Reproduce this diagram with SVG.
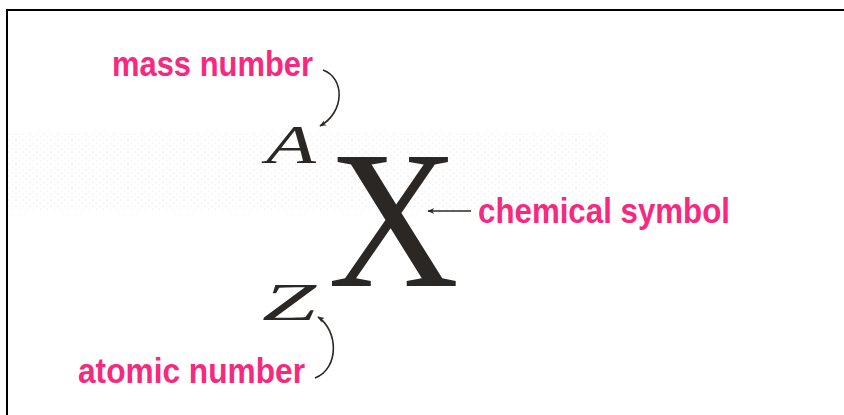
<svg xmlns="http://www.w3.org/2000/svg" width="844" height="415" viewBox="0 0 844 415">
<defs>
<style>
.lbl{font-family:"Liberation Sans Narrow","Liberation Sans",Arial,sans-serif;font-weight:bold;fill:#f52a7e;font-size:35px}
.sym{font-family:"Liberation Serif","Times New Roman",serif;fill:#2b2724}
.conn{fill:none;stroke:#2b2724;stroke-width:1.6}
</style>
<marker id="ah" viewBox="0 0 10 10" refX="9" refY="5" markerWidth="7" markerHeight="7" orient="auto-start-reverse" markerUnits="userSpaceOnUse">
<path d="M0,1 L10,5 L0,9 L3,5 Z" fill="#2b2724"/>
</marker>
<pattern id="dots" width="7" height="6" patternUnits="userSpaceOnUse">
<circle cx="2" cy="2" r="0.6" fill="#c8c8c8"/>
<circle cx="5.5" cy="5" r="0.5" fill="#d2d2d2"/>
</pattern>
</defs>
<rect width="844" height="415" fill="#ffffff"/>
<rect x="8" y="132" width="600" height="78" fill="url(#dots)" opacity="0.7"/>
<path d="M7,415 V10 H844" fill="none" stroke="#000" stroke-width="2"/>
<g id="mass-number"><text class="lbl" x="112" y="76" textLength="201" lengthAdjust="spacingAndGlyphs">mass number</text></g>
<g id="atomic-number"><text class="lbl" x="78" y="383" textLength="227" lengthAdjust="spacingAndGlyphs">atomic number</text></g>
<g id="chemical-symbol-label"><text class="lbl" x="478" y="223" textLength="252" lengthAdjust="spacingAndGlyphs">chemical symbol</text></g>
<g id="A"><text class="sym" x="266" y="163" font-size="54" font-style="italic" textLength="50" lengthAdjust="spacingAndGlyphs">A</text></g>
<g id="Z"><text class="sym" x="262" y="320" font-size="52" font-style="italic" textLength="54" lengthAdjust="spacingAndGlyphs">Z</text></g>
<g id="X"><text class="sym" x="328" y="286" font-size="198" textLength="131" lengthAdjust="spacingAndGlyphs">X</text></g>
<g id="connectors">
<path class="conn" d="M323,70 C345,78 345,112 320,126" marker-end="url(#ah)"/>
<path class="conn" d="M315,378 C340,368 338,330 318,317" marker-end="url(#ah)"/>
<path class="conn" d="M471,211 H428" marker-end="url(#ah)"/>
</g>
</svg>
